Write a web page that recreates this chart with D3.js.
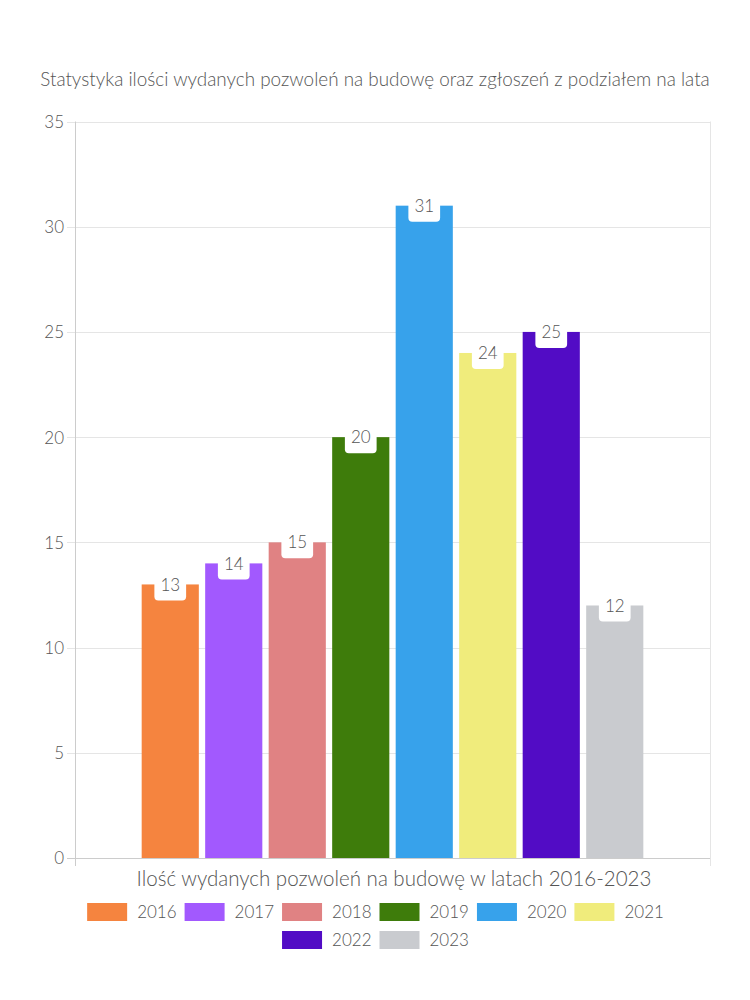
<!DOCTYPE html>
<html>
<head>
<meta charset="utf-8">
<script src="https://cdn.jsdelivr.net/npm/d3@7"></script>
<style>
  html, body { margin: 0; padding: 0; background: #fff; }
  svg { display: block; }
  text { font-family: Lato, "Open Sans", sans-serif; font-weight: 300; fill: #555; }
</style>
</head>
<body>
<svg id="chart" width="750" height="1000"></svg>
<script>
const years = ["2016", "2017", "2018", "2019", "2020", "2021", "2022", "2023"];
const values = [13, 14, 15, 20, 31, 24, 25, 12];
const colors = ["#f5843f", "#a259fe", "#e08283", "#3e7c0b", "#37a2eb", "#f0ec7c", "#520cc5", "#c9cbcf"];
const yTicks = [0, 5, 10, 15, 20, 25, 30, 35];
const titleText = "Statystyka ilości wydanych pozwoleń na budowę oraz zgłoszeń z podziałem na lata";
const xTitleText = "Ilość wydanych pozwoleń na budowę w latach 2016-2023";

(function () {
const svg = d3.select("#chart");
const pL = 75, pR = 710, pT = 121.5, pB = 858;

// title
const title = svg.append("text")
  .attr("x", 375).attr("y", 86)
  .attr("text-anchor", "middle")
  .style("font-size", "16px")
  .text(titleText);
{
  const w = title.node().getComputedTextLength();
  title.style("font-size", (16 * 670 / w).toFixed(2) + "px");
}

const y = d3.scaleLinear().domain([0, 35]).range([pB, pT]);
const edge = (pR - pL) * 0.1;
const x = d3.scaleBand().domain(years)
  .range([pL + edge, pR - edge])
  .paddingInner(0.1).paddingOuter(0.05);

// horizontal grid
svg.append("g").selectAll("line").data(yTicks.filter(d => d > 0)).join("line")
  .attr("x1", pL - 8).attr("x2", pR)
  .attr("y1", d => Math.round(y(d)) + 0.5).attr("y2", d => Math.round(y(d)) + 0.5)
  .attr("stroke", "#e5e5e5").attr("stroke-width", 1);

// vertical grid lines at category edges
svg.append("g").selectAll("line").data([pL, pR]).join("line")
  .attr("x1", d => d + 0.5).attr("x2", d => d + 0.5)
  .attr("y1", pT).attr("y2", pB + 8)
  .attr("stroke", (d, i) => i === 0 ? "#cccccc" : "#e5e5e5").attr("stroke-width", 1);

// x axis border
svg.append("line")
  .attr("x1", pL - 8).attr("x2", pR)
  .attr("y1", pB + 0.5).attr("y2", pB + 0.5)
  .attr("stroke", "#cccccc");

// y axis
const yAxis = d3.axisLeft(y).tickValues(yTicks).tickSize(0).tickPadding(11);
const ya = svg.append("g").attr("transform", `translate(${pL},0)`).call(yAxis);
ya.select(".domain").remove();
ya.selectAll("text").style("font-size", "17px").attr("fill", "#555").attr("dy", "0.35em")
  .style("font-family", "Lato, 'Open Sans', sans-serif").style("font-weight", 300);

// bars
svg.append("g").selectAll("rect").data(years).join("rect")
  .attr("x", d => x(d))
  .attr("y", (d, i) => y(values[i]))
  .attr("width", x.bandwidth())
  .attr("height", (d, i) => y(0) - y(values[i]))
  .attr("fill", (d, i) => colors[i]);

// value labels with white badges
const lab = svg.append("g").selectAll("g").data(years).join("g")
  .attr("transform", (d, i) => `translate(${x(d) + x.bandwidth() / 2},${y(values[i])})`);
lab.append("text")
  .attr("text-anchor", "middle").attr("dy", "0.36em")
  .style("font-size", "17px")
  .text((d, i) => values[i]);
lab.each(function () {
  const g = d3.select(this);
  const w = g.select("text").node().getComputedTextLength();
  g.insert("rect", "text")
    .attr("x", -w / 2 - 6).attr("y", -16)
    .attr("width", w + 12).attr("height", 32)
    .attr("rx", 4).attr("fill", "#fff");
});

// x axis title
const xt = svg.append("text")
  .attr("x", 394).attr("y", 886)
  .attr("text-anchor", "middle")
  .style("font-size", "17px")
  .text(xTitleText);
{
  const w = xt.node().getComputedTextLength();
  xt.style("font-size", (17 * 515 / w).toFixed(2) + "px");
}

// legend
const rows = [years.slice(0, 6), years.slice(6)];
const rowY = [912, 940];
const legend = svg.append("g");
rows.forEach((row, ri) => {
  const items = row.map(yr => {
    const t = legend.append("text").style("font-size", "17px").attr("dy", "0.35em").text(yr);
    return { yr, t, w: 40 + 10 + t.node().getComputedTextLength() };
  });
  const gap = 8;
  const total = d3.sum(items, d => d.w) + gap * (items.length - 1);
  let cx = 375.5 - total / 2;
  items.forEach(it => {
    const idx = years.indexOf(it.yr);
    legend.append("rect")
      .attr("x", cx).attr("y", rowY[ri] - 9)
      .attr("width", 40).attr("height", 18)
      .attr("fill", colors[idx]);
    it.t.attr("x", cx + 50).attr("y", rowY[ri]);
    cx += it.w + gap;
  });
});
})();
</script>
</body>
</html>
